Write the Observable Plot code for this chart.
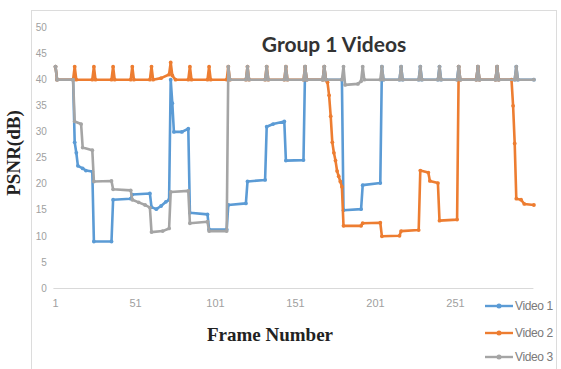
<!DOCTYPE html>
<html>
<head>
<meta charset="utf-8">
<script src="https://cdn.jsdelivr.net/npm/d3@7"></script>
<script src="https://cdn.jsdelivr.net/npm/@observablehq/plot@0.6"></script>
<style>
  html, body { margin: 0; padding: 0; background: #fff; }
  #wrap { position: relative; width: 561px; height: 369px; overflow: hidden; }
  #frame { position: absolute; left: 31px; top: 10px; width: 526px; height: 380px; border: 1px solid #dcdcdc; box-sizing: border-box; }
  #chart { position: absolute; left: 0; top: 0; }
  .title { position: absolute; left: 234px; top: 33px; width: 200px; text-align: center;
    font: 700 21px Lato, "Open Sans", sans-serif; color: #333; line-height: 22px; white-space: nowrap; }
  .xlabel { position: absolute; left: 170px; top: 324px; width: 200px; text-align: center;
    font: 700 19px "Liberation Serif", "DejaVu Serif", serif; color: #222; line-height: 22px; white-space: nowrap; }
  .ylabel { position: absolute; left: 14px; top: 153px; transform: translate(-50%, -50%) rotate(-90deg);
    font: 700 19px "Liberation Serif", "DejaVu Serif", serif; color: #222; line-height: 22px; white-space: nowrap; }
  .leg { position: absolute; left: 485px; height: 16px; display: flex; align-items: center;
    font: 12px "Liberation Sans Narrow", "Liberation Sans", sans-serif; letter-spacing: -0.4px; color: #7a7a7a; white-space: nowrap; }
  .leg svg { margin-right: 2px; }
</style>
</head>
<body>
<div id="wrap">
  <div id="frame"></div>
  <div id="chart"></div>
  <div class="title">Group 1 Videos</div>
  <div class="ylabel">PSNR(dB)</div>
  <div class="xlabel">Frame Number</div>
</div>
<script>
// ---- data (frame number, PSNR in dB) ----
const seriesNames = ["Video 1", "Video 2", "Video 3"];
const seriesColors = ["#5B9BD5", "#ED7D31", "#A5A5A5"];
const xTicks = [1, 51, 101, 151, 201, 251];
const yTicks = [0, 5, 10, 15, 20, 25, 30, 35, 40, 45, 50];

const video1 = [[1,42.5],[2,40],[12,40],[13,28],[14,26],[15,23.5],[18,23],[20,22.6],[24,22.4],[25,9],[36,9],
  [37,17],[48,17.2],[49,18],[60,18.2],[61,15.6],[64,15.2],[67,15.8],[70,16.6],[72,17],[73,40],[74,35.5],[75,30],
  [80,30],[84,30.6],[85,14.5],[96,14.2],[97,11.3],[108,11.3],[109,16],[120,16.3],[121,20.5],[132,20.8],[133,31],
  [137,31.5],[144,32],[145,24.5],[156,24.6],[157,42.5],[158,40],[168,40],[169,42.5],[170,40],[180,40],[181,15],
  [192,15.2],[193,19.8],[204,20.2],[205,42.5],[206,40],[216,40],[217,42.5],[218,40],[228,40],[229,42.5],[230,40],
  [240,40],[241,42.5],[242,40],[252,40],[253,42.5],[254,40],[264,40],[265,42.5],[266,40],[276,40],[277,42.5],
  [278,40],[288,40],[289,42.5],[290,40],[300,40]];

const video2 = [[1,42.5],[2,40],[12,40],[13,42.5],[14,40],[24,40],[25,42.5],[26,40],[36,40],[37,42.5],[38,40],
  [48,40],[49,42.5],[50,40],[60,40],[61,42.5],[62,40],[67,40.3],[72,41],[73,43.3],[74,40.8],[76,40],[84,40],
  [85,42.5],[86,40],[96,40],[97,42.5],[98,40],[108,40],[109,42.5],[110,40],[120,40],[121,42.5],[122,40],[132,40],
  [133,42.5],[134,40],[144,40],[145,42.5],[146,40],[156,40],[157,42.5],[158,40],[168,40],[169,42.5],[170,40],
  [171,39.5],[172,37],[173,33],[174,28],[175,26],[176,24.5],[177,22.5],[178,21.5],[179,20.5],[180,19.5],[181,12],
  [192,12],[193,12.5],[204,12.6],[205,10],[216,10.1],[217,11],[228,11.2],[229,22.6],[234,22.2],[235,20.6],[240,20.2],
  [241,13],[252,13.2],[253,42.5],[254,40],[264,40],[265,42.5],[266,40],[276,40],[277,42.5],[278,40],[286,40],
  [287,35],[288,27.8],[289,17.2],[292,17],[294,16.2],[300,16]];

const video3 = [[1,42.5],[2,40],[12,40],[13,32],[17,31.5],[18,27],[24,26.5],[25,20.5],[36,20.6],[37,19],[48,18.8],
  [49,17],[53,16.5],[57,16],[60,15.5],[61,10.8],[68,11],[72,11.5],[73,18.5],[84,18.7],[85,12.5],[96,12.8],[97,11],
  [108,11],[109,42.5],[110,40],[120,40],[121,42.5],[122,40],[132,40],[133,42.5],[134,40],[144,40],[145,42.5],
  [146,40],[156,40],[157,42.5],[158,40],[168,40],[169,42.5],[170,40],[180,40],[181,42.5],[182,39],[190,39.2],
  [192,39.7],[193,42.5],[194,40],[204,40],[205,42.5],[206,40],[216,40],[217,42.5],[218,40],[228,40],[229,42.5],
  [230,40],[240,40],[241,42.5],[242,40],[252,40],[253,42.5],[254,40],[264,40],[265,42.5],[266,40],[276,40],
  [277,42.5],[278,40],[288,40],[289,42.5],[290,40],[300,40]];

const allSeries = [video1, video2, video3];
const rows = allSeries.flatMap((s, i) => s.map(([frame, psnr]) => ({series: seriesNames[i], frame, psnr})));

const seriesMarks = seriesNames.flatMap(name => {
  const d = rows.filter(r => r.series === name);
  return [
    Plot.line(d, {x: "frame", y: "psnr", stroke: "series", strokeWidth: 2.6, strokeLinejoin: "round"}),
    Plot.dot(d, {x: "frame", y: "psnr", fill: "series", r: 1.9})
  ];
});

const chart = Plot.plot({
  width: 561,
  height: 369,
  marginLeft: 53.4,
  marginRight: 27.6,
  marginTop: 27,
  marginBottom: 81,
  style: {background: "transparent", fontFamily: "'Liberation Sans Narrow', 'Liberation Sans', sans-serif"},
  x: {domain: [0, 300]},
  y: {domain: [0, 50]},
  color: {domain: seriesNames, range: seriesColors},
  marks: [
    Plot.ruleY([0], {stroke: "#d9d9d9", strokeWidth: 1.2}),
    Plot.axisX({ticks: xTicks, tickSize: 0, tickPadding: 11, label: null, fill: "#a0a0a0", fontSize: 11}),
    Plot.axisY({ticks: yTicks, tickSize: 0, tickPadding: 7, label: null, fill: "#a0a0a0", fontSize: 10}),
    ...seriesMarks
  ]
});
document.getElementById("chart").appendChild(chart);

// legend
const wrap = document.getElementById("wrap");
const legTops = [298, 325, 349];
seriesNames.forEach((name, i) => {
  const item = document.createElement("div");
  item.className = "leg";
  item.style.top = legTops[i] + "px";
  const c = seriesColors[i];
  item.innerHTML = `<svg width="28" height="16"><line x1="0" x2="28" y1="8" y2="8" stroke="${c}" stroke-width="2.4"/><circle cx="14" cy="8" r="2.5" fill="${c}"/></svg><span>${name}</span>`;
  wrap.appendChild(item);
});
</script>
</body>
</html>
